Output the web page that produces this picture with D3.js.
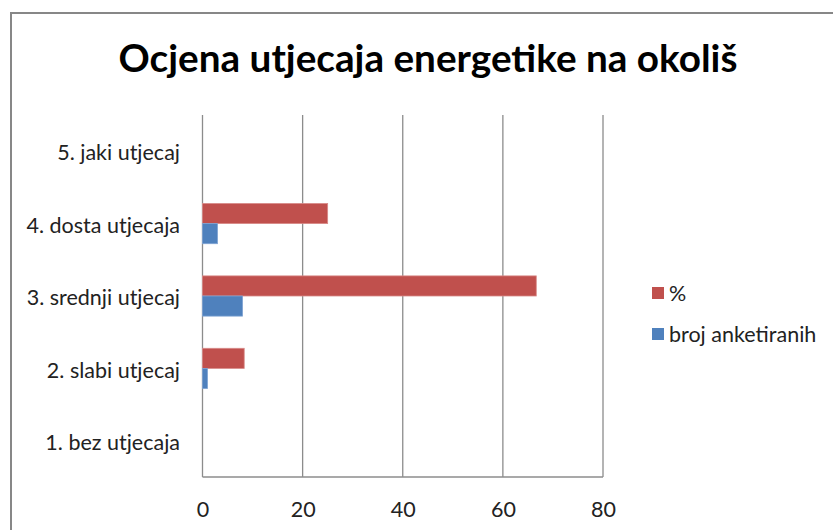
<!DOCTYPE html>
<html><head><meta charset="utf-8">
<script src="https://cdn.jsdelivr.net/npm/d3@7"></script>
<style>body{margin:0;background:#fff}svg{display:block}text{font-family:Lato,"Open Sans",sans-serif}</style>
</head><body>
<script>
const title = "Ocjena utjecaja energetike na okoliš";
const categories = ["5. jaki utjecaj","4. dosta utjecaja","3. srednji utjecaj","2. slabi utjecaj","1. bez utjecaja"];
const seriesNames = ["%","broj anketiranih"];
const percentValues = [0, 25, 66.67, 8.33, 0];
const countValues = [0, 3, 8, 1, 0];
const xTicks = [0,20,40,60,80];
const colors = ["#C0504D","#4F81BD"];

const W=833,H=530;
const svg=d3.select("body").append("svg").attr("width",W).attr("height",H);
svg.append("rect").attr("x",11).attr("y",13).attr("width",W).attr("height",H).attr("fill","#fff").attr("stroke","#878787").attr("stroke-width",2);

const m={left:202.5,right:603,top:115,bottom:477};
const x=d3.scaleLinear().domain([0,80]).range([m.left,m.right]);
const y=d3.scaleBand().domain(categories).range([m.top,m.bottom]);
const inner=d3.scaleBand().domain(seriesNames).range([0,y.bandwidth()]).paddingInner(0).paddingOuter(0.8);

// gridlines
svg.append("g").selectAll("line").data(xTicks).join("line")
 .attr("x1",d=>x(d)).attr("x2",d=>x(d)).attr("y1",m.top).attr("y2",m.bottom)
 .attr("stroke","#8c8c8c").attr("stroke-width",1.3);
svg.append("line").attr("x1",m.left).attr("x2",m.right).attr("y1",m.bottom).attr("y2",m.bottom).attr("stroke","#8c8c8c").attr("stroke-width",1.3);

const data=categories.map((c,i)=>({c,vals:[percentValues[i],countValues[i]]}));
const g=svg.append("g");
data.forEach(d=>{
  d.vals.forEach((v,j)=>{
    if(v<=0) return;
    g.append("rect").attr("x",x(0)).attr("y",y(d.c)+inner(seriesNames[j]))
     .attr("width",x(v)-x(0)).attr("height",inner.bandwidth())
     .attr("fill",colors[j]).attr("stroke",j?"#7fa3d3":"#d88a88").attr("stroke-width",0.8);
  });
});

const fs=21.5;
// axes
const xa=d3.axisBottom(x).tickValues(xTicks).tickSize(0).tickPadding(0);
const xg=svg.append("g").attr("transform",`translate(0,${m.bottom})`).call(xa);
xg.select(".domain").remove();
xg.selectAll("text").attr("y",40).attr("dy",0).attr("font-size",fs).attr("fill","#222").style("font-family","Lato");

const ya=d3.axisLeft(y).tickSize(0).tickPadding(0);
const yg=svg.append("g").attr("transform",`translate(180,0)`).call(ya);
yg.select(".domain").remove();
yg.selectAll("text").attr("x",0).attr("dy","0.43em").attr("font-size",fs).attr("fill","#222").style("font-family","Lato");

// title
svg.append("text").attr("x",428).attr("y",72).attr("text-anchor","middle")
 .attr("font-size",38.7).attr("font-weight","bold").attr("fill","#000").text(title);

// legend
const lg=svg.append("g");
seriesNames.forEach((s,i)=>{
  const yy=[293,334][i];
  lg.append("rect").attr("x",652).attr("y",yy-6).attr("width",12).attr("height",12).attr("fill",colors[i]);
  lg.append("text").attr("x",669).attr("y",yy).attr("dy","0.38em").attr("font-size",fs).attr("fill","#222").text(s);
});
</script>
</body></html>
